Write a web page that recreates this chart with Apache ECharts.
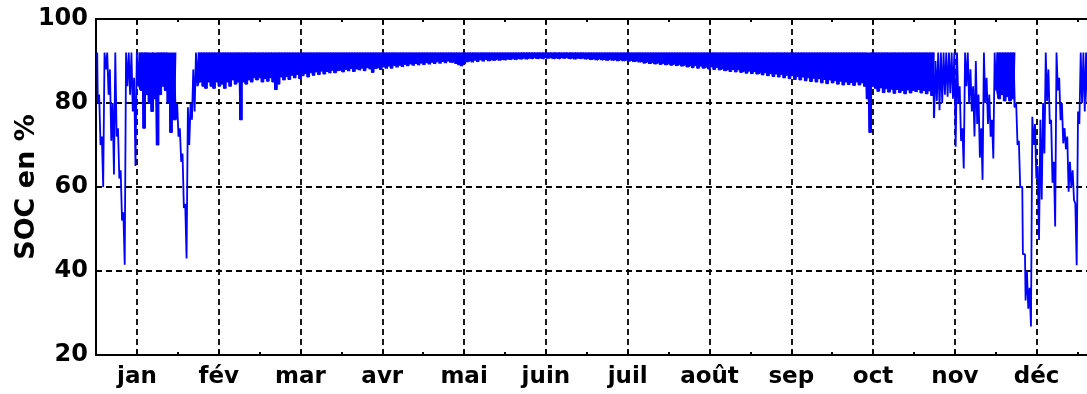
<!DOCTYPE html>
<html><head><meta charset="utf-8">
<script src="https://cdn.jsdelivr.net/npm/echarts@6/dist/echarts.min.js"></script>
<style>html,body{margin:0;padding:0;background:#fff}#c{width:1087px;height:394px}</style>
</head><body><div id="c"></div>
<script>
// Month tick labels and y ticks
const monthLabels = ['jan','fév','mar','avr','mai','juin','juil','août','sep','oct','nov','déc'];
const yTicks = [20, 40, 60, 80, 100];

// Daily SOC (%) : daily peak (High) and daily trough (Low)
const janHigh = [92,82,72,92,92,88,80,92,74,64,54,92,92,92,86,92,92,92,92,92,90,92,88,92,92,92,92,90,88,88,80];
const janLow  = [80,70,60,88,82,71,63,72,62,52,41.5,84,82,78,65,84,83,74,82,80,78,81,70,82,84,83,80,73,76,76,72];
const fevHigh = [74,68,56,79,80,88,92,92,92,92,92,92,92,92,92,92,92,92,92,92,92,92,92,92,92,92,92,92];
const fevLow  = [66,55,43,70,76,78,84,85,84,83.5,85,84,83.5,85,84,84.5,83.5,85,84,85.5,84.5,85,76,85,84.5,85.5,85,86];
const marHigh = [92,92,92,92,92,92,92,92,92,92,92,92,92,92,92,92,92,92,92,92,92,92,92,92,92,92,92,92,92,92,92];
const marLow  = [85.5,86,85,85.8,85.2,86,85,83.2,84.5,86.2,85.5,86.3,85.6,86.6,86,86.8,85.8,86.5,87,86.2,87.2,86.6,87.4,86.8,87.6,86.9,87.5,87.1,87.8,87.2,87.7];
const avrHigh = [92,92,92,92,92,92,92,92,92,92,92,92,92,92,92,92,92,92,92,92,92,92,92,92,92,92,92,92,92,92];
const avrLow  = [87.9,87.4,88,87.6,88.2,87.5,88.1,87.8,88.3,87.7,88.4,88,87.3,88.2,88.5,88,88.6,88.2,88.8,88.3,88.9,88.5,89,88.6,89.2,88.8,89.3,88.9,89.4,89];
const maiHigh = [92,92,92,92,92,92,92,92,92,92,92,92,92,92,92,92,92,92,92,92,92,92,92,92,92,92,92,92,92,92,92];
const maiLow  = [89.5,89.1,89.6,89.2,89.7,89.3,89.8,89.4,89.9,89.5,90,89.6,89.9,89.4,89,88.8,89.3,89.8,90.1,89.7,90.2,89.8,90.3,89.9,90.4,90,90.4,90.1,90.5,90.1,90.5];
const juinHigh = [92,92,92,92,92,92,92,92,92,92,92,92,92,92,92,92,92,92,92,92,92,92,92,92,92,92,92,92,92,92];
const juinLow  = [90.2,90.6,90.3,90.7,90.3,90.7,90.4,90.8,90.4,90.8,90.5,90.9,90.5,90.8,90.5,90.9,90.6,90.9,90.5,90.8,90.5,90.9,90.6,90.9,90.5,90.8,90.4,90.8,90.5,90.8];
const juilHigh = [92,92,92,92,92,92,92,92,92,92,92,92,92,92,92,92,92,92,92,92,92,92,92,92,92,92,92,92,92,92,92];
const juilLow  = [90.4,90.7,90.3,90.6,90.2,90.6,90.2,90.5,90.1,90.5,90.1,90.4,90,90.4,90,90.3,89.9,90.2,89.8,90.1,89.7,90,89.5,89.9,89.4,89.8,89.3,89.7,89.2,89.6,89.1];
const aoutHigh = [92,92,92,92,92,92,92,92,92,92,92,92,92,92,92,92,92,92,92,92,92,92,92,92,92,92,92,92,92,92,92];
const aoutLow  = [89.5,89,89.4,88.9,89.3,88.8,89.2,88.6,89,88.4,88.9,88.3,88.8,88.3,88.7,88.1,88.6,88,88.5,87.9,88.3,87.7,88.1,87.5,88,87.4,87.9,87.3,87.7,87.1,87.6];
const sepHigh = [92,92,92,92,92,92,92,92,92,92,92,92,92,92,92,92,92,92,92,92,92,92,92,92,92,92,92,92,92,92];
const sepLow  = [87,87.5,86.9,87.3,86.7,87.2,86.5,87,86.3,86.9,86.2,86.8,86,86.6,85.8,86.5,85.6,86.3,85.5,86.2,85.3,86,85.1,85.9,85,85.8,84.8,85.6,84.6,85.5];
const octHigh = [92,92,92,92,92,92,92,92,92,92,92,92,92,92,84,92,92,92,92,92,92,92,92,92,92,92,92,92,92,92,92];
const octLow  = [84.8,85.3,84.5,85.2,84.3,85,84.4,84.9,84.2,85,84.3,84.8,84,81,73,84,83.5,82.8,83.6,82.5,83.4,82.6,83.3,82.3,83.2,82.5,83,82.2,83.1,82.4,83];
const novHigh = [92,92,92,92,92,92,92,92,90,92,92,92,92,92,92,92,92,84,74,92,92,88,84,90,82,74,92,86,82,76];
const novLow  = [82.6,83.2,82.4,83,82.2,82.9,81.8,76.5,80.5,78.3,80,82,81.5,82.3,81,69.6,80,71,64.4,84,80,78,72,75,67,61.7,80,75,72,66.8];
const decHigh = [92,92,92,92,92,92,92,92,80,71,60,44,40,36,76.7,75,65,76,80,92,88,76,66,92,86,80,74,72,66,64,56];
const decLow  = [83,81,82,80.5,81.5,80.5,81,79,70,60,44,33,31,26.8,70,62,47.4,57,68,80.5,75,61,50.6,83,75.9,70.4,69,58.9,60,56.9,41.4];
const nextHigh = [78,92,92,92,92];
const nextLow  = [75,80,78,80,79];

// Day ranges where the daily cycles form a dense solid band below full charge
const denseBandDays = [[15, 29], [37, 311], [334, 341]];
const fullCharge = 92;

const monthSeries = [
  [janHigh, janLow], [fevHigh, fevLow], [marHigh, marLow], [avrHigh, avrLow],
  [maiHigh, maiLow], [juinHigh, juinLow], [juilHigh, juilLow], [aoutHigh, aoutLow],
  [sepHigh, sepLow], [octHigh, octLow], [novHigh, novLow], [decHigh, decLow], [nextHigh, nextLow]
];

const data = [];
const lows = [];
let day = 0;
monthSeries.forEach(([hi, lo]) => {
  for (let i = 0; i < hi.length; i++) {
    data.push([day + 0.45, hi[i]]);
    data.push([day + 0.9, lo[i]]);
    lows.push([day + 0.9, lo[i], day]);
    day++;
  }
});
const bandData = denseBandDays.map(([a, b]) =>
  lows.filter(p => p[2] >= a && p[2] <= b).map(p => [p[0], p[1]]));

const MONTH = 365 / 12;
const majors = monthLabels.map((_, i) => (i + 0.5) * MONTH);
const minors = [];
for (let i = 0; i <= 12; i++) minors.push(i * MONTH);

const FONT = 'DejaVu Sans';
const XMAX = 370;
const black = '#000';
const BLUE = '#0000ff';

function xAx(pos, custom, len, opts) {
  return Object.assign({
    type: 'value', min: 0, max: XMAX, position: pos,
    axisLine: { show: false },
    axisTick: { show: true, inside: true, length: len, customValues: custom, lineStyle: { color: black, width: 2 } },
    axisLabel: { show: false },
    splitLine: { show: false }
  }, opts || {});
}

const series = bandData.map(d => ({
  type: 'line', xAxisIndex: 0, data: d, showSymbol: false, symbol: 'none', step: 'middle',
  lineStyle: { color: BLUE, width: 1 }, areaStyle: { color: BLUE, opacity: 1, origin: fullCharge },
  clip: true, z: 2, silent: true
}));
series.push({
  type: 'line', xAxisIndex: 0, data: data, showSymbol: false, symbol: 'none', step: 'middle',
  lineStyle: { color: BLUE, width: 1.8 }, clip: true, z: 3
});

const chart = echarts.init(document.getElementById('c'), null, { renderer: 'canvas' });
chart.setOption({
  animation: false,
  backgroundColor: '#fff',
  grid: { left: 96, top: 19, width: 995, height: 336, containLabel: false, outerBoundsMode: 'none' },
  xAxis: [
    xAx('bottom', majors, 5, {
      axisLine: { show: true, lineStyle: { color: black, width: 2 } },
      axisLabel: {
        show: true, customValues: majors, color: black, fontFamily: FONT, fontWeight: 'bold', fontSize: 23, margin: 11,
        formatter: v => monthLabels[Math.round(v / MONTH - 0.5)] || ''
      },
      splitLine: { show: true, lineStyle: { color: black, width: 1.8, type: [6, 4] } }
    }),
    xAx('bottom', minors, 3),
    xAx('top', majors, 5, { axisLine: { show: true, lineStyle: { color: black, width: 2 } } }),
    xAx('top', minors, 3)
  ],
  yAxis: {
    type: 'value', min: yTicks[0], max: yTicks[yTicks.length - 1], interval: 20,
    name: 'SOC en %', nameLocation: 'middle', nameGap: 56, nameMoveOverlap: false,
    nameTextStyle: { color: black, fontFamily: FONT, fontWeight: 'bold', fontSize: 27 },
    axisLine: { show: true, lineStyle: { color: black, width: 2 } },
    axisTick: { show: true, inside: true, length: 5, lineStyle: { color: black, width: 2 } },
    axisLabel: { color: black, fontFamily: FONT, fontWeight: 'bold', fontSize: 24, margin: 8 },
    splitLine: { show: true, lineStyle: { color: black, width: 1.8, type: [6, 4] } }
  },
  series: series
});
</script></body></html>
